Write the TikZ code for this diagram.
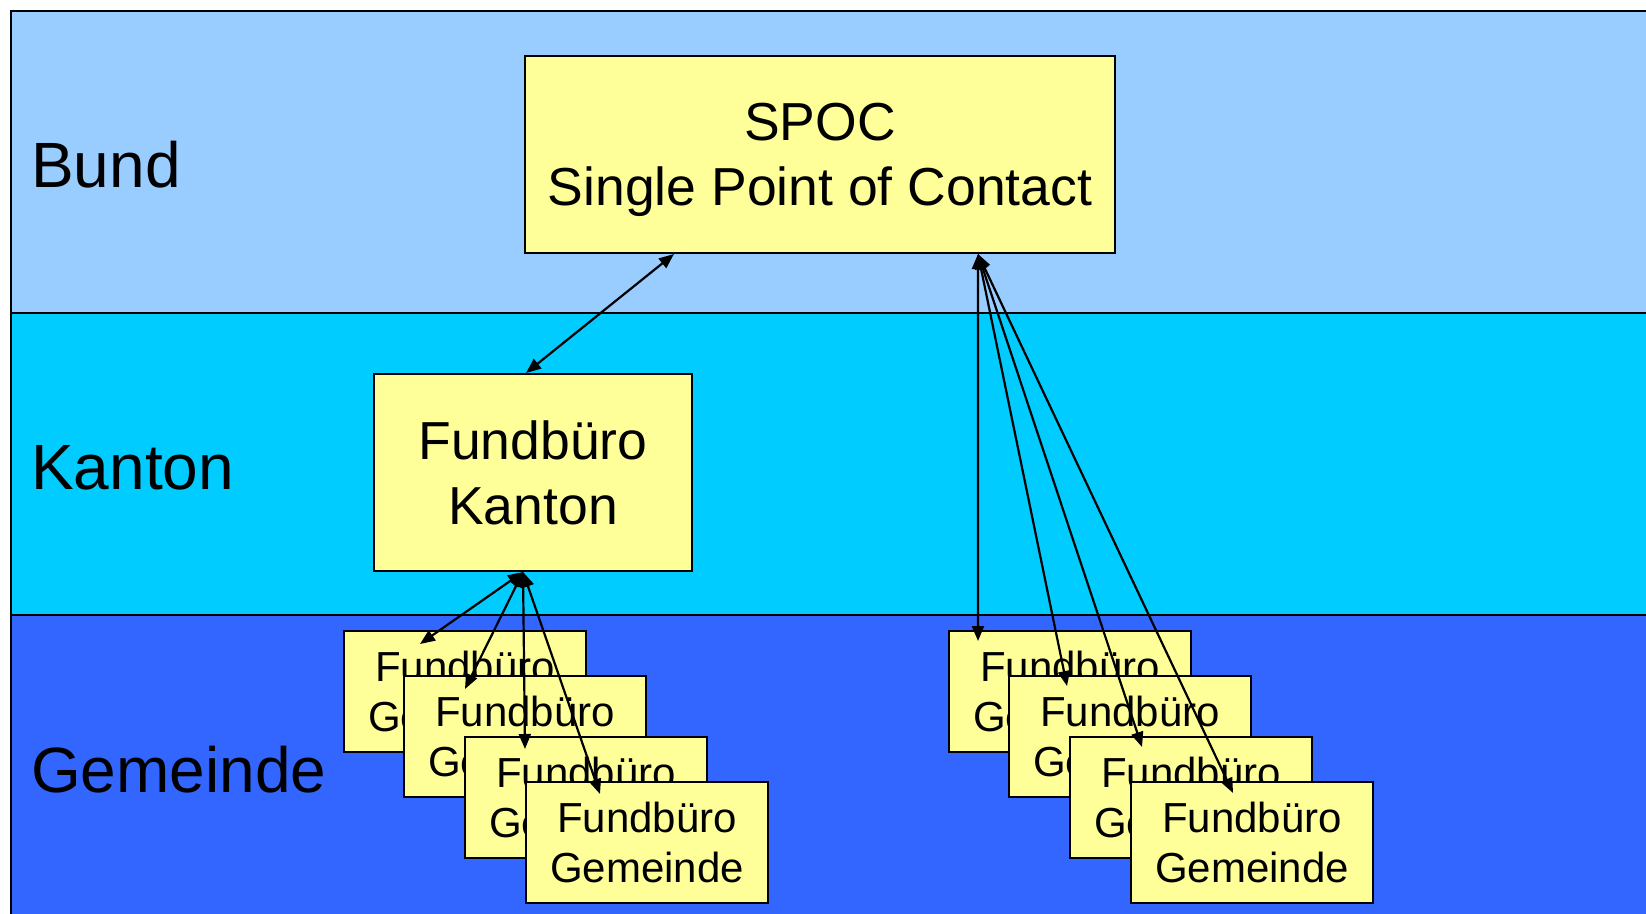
\documentclass[tikz,border=0pt]{standalone}
\usepackage{fontspec}
\setmainfont{Liberation Sans}
\usetikzlibrary{arrows.meta,calc}

\definecolor{bundblue}{HTML}{99CCFF}
\definecolor{kantonblue}{HTML}{00CCFF}
\definecolor{gemeindeblue}{HTML}{3366FF}
\definecolor{boxyellow}{HTML}{FFFF99}

\begin{document}
\begin{tikzpicture}[x=1bp,y=-1bp,
  office/.style={draw,line width=2bp,fill=boxyellow,inner sep=0pt,align=center},
  bigoffice/.style={office,font=\fontsize{53.5bp}{65bp}\selectfont},
  smalloffice/.style={office,minimum width=242bp,minimum height=121bp,font=\fontsize{42bp}{50bp}\selectfont},
  level/.style={anchor=base west,inner sep=0pt,font=\fontsize{64bp}{76bp}\selectfont},
  link/.style={{Triangle[length=15bp,width=12bp]}-{Triangle[length=15bp,width=12bp]},line width=2.2bp}]
\useasboundingbox (0,0) rectangle (1646,913);

% Levels
\draw[line width=2bp,fill=bundblue] (11,11) rectangle (1660,313);
\draw[line width=2bp,fill=kantonblue] (11,313) rectangle (1660,615);
\draw[line width=2bp,fill=gemeindeblue] (11,615) rectangle (1660,930);
\node[level] (bund) at (31,187) {Bund};
\node[level] (kantonlabel) at (31,489) {Kanton};
\node[level] (gemeindelabel) at (31,792) {Gemeinde};

% SPOC
\node[bigoffice,minimum width=590bp,minimum height=197bp] (spoc) at (820,154.5)
  {SPOC\\\raisebox{0pt}[\height][0pt]{Single Point of Contact}};

% Fundbuero Kanton
\node[bigoffice,minimum width=318bp,minimum height=197bp] (kanton) at (533,472.5) {Fundbüro\\Kanton};

% Fundbueros Gemeinde, left
\node[smalloffice] (gl1) at (465,691.5) {Fundbüro\\Gemeinde};
\node[smalloffice] (gl2) at (525,736.5) {Fundbüro\\Gemeinde};
\node[smalloffice] (gl3) at (586,797.5) {Fundbüro\\Gemeinde};
\node[smalloffice] (gl4) at (647,842.5) {Fundbüro\\Gemeinde};

% Fundbueros Gemeinde, right
\node[smalloffice] (gr1) at (1070,691.5) {Fundbüro\\Gemeinde};
\node[smalloffice] (gr2) at (1130,736.5) {Fundbüro\\Gemeinde};
\node[smalloffice] (gr3) at (1191,797.5) {Fundbüro\\Gemeinde};
\node[smalloffice] (gr4) at (1252,842.5) {Fundbüro\\Gemeinde};

% Links
\coordinate (kfoot) at ($(kanton.south)+(-10,0)$);
\coordinate (sfoot) at ($(spoc.south west)+(454,0)$);
\draw[link] ($(spoc.south west)+(150,0)$) -- ($(kanton.north west)+(153,0)$);
\draw[link] (kfoot) -- ($(gl1.north west)+(77,14)$);
\draw[link] (kfoot) -- ($(gl2.north west)+(62,14)$);
\draw[link] (kfoot) -- ($(gl3.north west)+(61,13)$);
\draw[link] (kfoot) -- ($(gl4.north west)+(75,13)$);
\draw[link] (sfoot) -- ($(gr1.north west)+(30,11)$);
\draw[link] (sfoot) -- ($(gr2.north west)+(59,11)$);
\draw[link] (sfoot) -- ($(gr3.north west)+(73,11)$);
\draw[link] (sfoot) -- ($(gr4.north west)+(103,12)$);

\end{tikzpicture}
\end{document}
